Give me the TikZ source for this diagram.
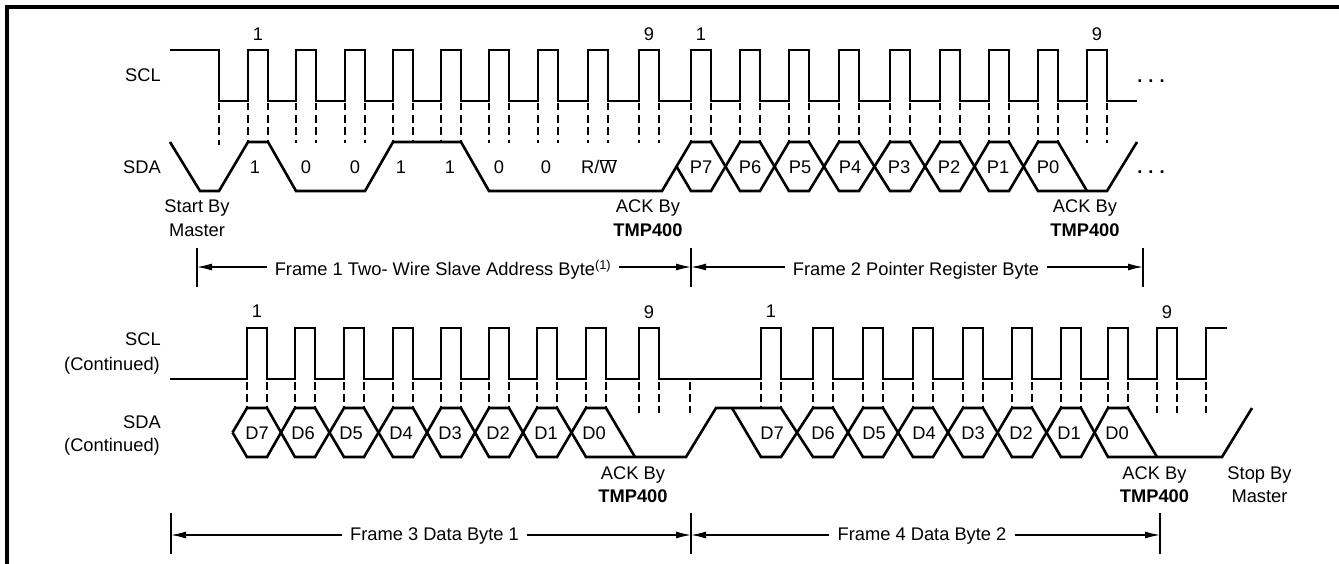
\documentclass[tikz,border=0pt]{standalone}
\usepackage{fontspec}
\setmainfont{Liberation Sans}
\usetikzlibrary{arrows.meta}
\begin{document}
\begin{tikzpicture}[x=1pt,y=-1pt,
  sig/.style={line width=2.6pt, line join=miter},
  dsh/.style={line width=1.5pt, dash pattern=on 7.5pt off 4.7pt},
  dimline/.style={line width=1.3pt},
  tickmark/.style={line width=1.6pt},
  arr/.style={dimline, -{Latex[length=15pt,width=7pt]}},
  lbl/.style={font=\fontsize{18.3}{22}\selectfont, inner sep=0pt, anchor=base},
  rlbl/.style={lbl, anchor=base east},
  flbl/.style={lbl, inner xsep=8pt}
]
\useasboundingbox (0,0) rectangle (1339,564);
% frame
\draw[line width=3.5pt] (7,570) -- (7,7) -- (1345,7);

% ================= TOP: SCL =================
\draw[sig] (170,50) -- (219,50) -- (219,101)
  \foreach \r in {248,296,345,393,441,489,538,588,639,691,740,789,839,890,940,989,1038,1087}
  { -- (\r,101) -- (\r,50) -- (\r+20,50) -- (\r+20,101) }
  -- (1137,101);
\foreach \r in {248,296,345,393,441,489,538,588,639,691,740,789,839,890,940,989,1038,1087}
  { \draw[dsh] (\r,103) -- (\r,143); \draw[dsh] (\r+20,103) -- (\r+20,143); }
\draw[dsh] (219,103) -- (219,145);

% ================= TOP: SDA =================
\draw[sig] (170,142) -- (200,191) -- (219,191) -- (248,142) -- (268,142) -- (296,191)
  -- (365,191) -- (393,142) -- (461,142) -- (489,191) -- (662,191)
  -- (691,142) -- (711,142) -- (740,191) -- (760,191) -- (789,142) -- (809,142)
  -- (839,191) -- (859,191) -- (890,142) -- (910,142) -- (940,191) -- (960,191)
  -- (989,142) -- (1009,142) -- (1038,191) -- (1107,191) -- (1137,142);
\draw[sig] (676.5,166.5) -- (691,191) -- (711,191) -- (740,142) -- (760,142) -- (789,191)
  -- (809,191) -- (839,142) -- (859,142) -- (890,191) -- (910,191) -- (940,142)
  -- (960,142) -- (989,191) -- (1009,191) -- (1038,142) -- (1058,142) -- (1087,191);

% top labels
\node[rlbl] (sclA) at (161,82) {SCL};
\node[rlbl] (sdaA) at (161,174) {SDA};
\node[lbl] (n1a) at (258,41) {1};
\node[lbl] (n9a) at (649,41) {9};
\node[lbl] (n1b) at (701,41) {1};
\node[lbl] (n9b) at (1097,41) {9};
\node[lbl] (dotsA) at (1151,83) {\bfseries .\,\,.\,\,.};
\node[lbl] (dotsB) at (1151,174) {\bfseries .\,\,.\,\,.};
\foreach \x/\t [count=\i] in {255/1,306/0,355/0,401/1,450/1,499/0,546/0}
  \node[lbl] (bit\i) at (\x,174) {\t};
\node[lbl] (rw) at (599,174) {R/$\overline{\hbox{W}}$};
\foreach \x/\t in {701/P7,750/P6,800/P5,850/P4,899/P3,949/P2,998/P1,1048/P0}
  \node[lbl] (\t) at (\x,174) {\t};
\node[lbl] (startA) at (197,213) {Start By};
\node[lbl] (startB) at (197,236.7) {Master};
\node[lbl] (ack1a) at (648,212.7) {ACK By};
\node[lbl] (ack1b) at (648,236.4) {\bfseries TMP400};
\node[lbl] (ack2a) at (1085,212.7) {ACK By};
\node[lbl] (ack2b) at (1085,236.4) {\bfseries TMP400};

% top dimension
\coordinate (tk1) at (197,267);
\coordinate (tk2) at (691,267);
\coordinate (tk3) at (1143,267);
\foreach \t in {tk1,tk2,tk3} \draw[tickmark] (\t) ++(0,-19) -- ++(0,39);
\node[flbl] (f1) at (443,275.7) {Frame 1 Two- Wire Slave Address Byte\textsuperscript{(1)}};
\node[flbl] (f2) at (916,275.7) {Frame 2 Pointer Register Byte};
\draw[arr] (f1.west |- tk1) -- (tk1);
\draw[arr] (f1.east |- tk2) -- (tk2);
\draw[arr] (f2.west |- tk2) -- (tk2);
\draw[arr] (f2.east |- tk3) -- (tk3);

% ================= BOTTOM: SCL =================
\draw[sig] (170,379)
  \foreach \r in {247,295,344,393,441,489,537,586,639,761,813,863,913,963,1012,1061,1108,1157}
  { -- (\r,379) -- (\r,328) -- (\r+20,328) -- (\r+20,379) }
  -- (1206,379) -- (1206,328) -- (1227,328);
\foreach \r in {247,295,344,393,441,489,537,586,761,813,863,913,963,1012,1061,1108}
  { \draw[dsh] (\r,382) -- (\r,408); \draw[dsh] (\r+20,382) -- (\r+20,408); }
\foreach \x in {639,659,690,1157,1177,1206}
  \draw[dsh] (\x,382) -- (\x,413);

% ================= BOTTOM: SDA =================
\draw[sig] (232.5,432.5) -- (247,408) -- (267,408) -- (295,457) -- (315,457) -- (344,408)
  -- (364,408) -- (393,457) -- (413,457) -- (441,408) -- (461,408) -- (489,457)
  -- (509,457) -- (537,408) -- (557,408) -- (586,457) -- (686,457) -- (716,408)
  -- (781,408) -- (813,457) -- (833,457) -- (863,408) -- (883,408) -- (913,457)
  -- (933,457) -- (963,408) -- (983,408) -- (1012,457) -- (1032,457) -- (1061,408)
  -- (1081,408) -- (1108,457) -- (1222,457) -- (1252,408);
\draw[sig] (232.5,432.5) -- (247,457) -- (267,457) -- (295,408) -- (315,408) -- (344,457)
  -- (364,457) -- (393,408) -- (413,408) -- (441,457) -- (461,457) -- (489,408)
  -- (509,408) -- (537,457) -- (557,457) -- (586,408) -- (606,408) -- (635,457);
\draw[sig] (732,408) -- (761,457) -- (781,457) -- (813,408) -- (833,408) -- (863,457)
  -- (883,457) -- (913,408) -- (933,408) -- (963,457) -- (983,457) -- (1012,408)
  -- (1032,408) -- (1061,457) -- (1081,457) -- (1108,408) -- (1128,408) -- (1157,457);

% bottom labels
\node[rlbl] (sclB) at (161,345.7) {SCL};
\node[rlbl] (sclC) at (160,370.7) {(Continued)};
\node[rlbl] (sdaB) at (161,428.3) {SDA};
\node[rlbl] (sdaC) at (160,451) {(Continued)};
\node[lbl] (m1a) at (257,317) {1};
\node[lbl] (m9a) at (649,318) {9};
\node[lbl] (m1b) at (771,317) {1};
\node[lbl] (m9b) at (1167,318) {9};
\foreach \x/\t in {257/D7,303/D6,351/D5,401/D4,450/D3,498/D2,546/D1,594/D0}
  \node[lbl] (a\t) at (\x,439) {\t};
\foreach \x/\t in {772/D7,823/D6,874/D5,924/D4,973/D3,1021/D2,1069/D1,1117/D0}
  \node[lbl] (b\t) at (\x,439) {\t};
\node[lbl] (ack3a) at (633,479) {ACK By};
\node[lbl] (ack3b) at (633,502.7) {\bfseries TMP400};
\node[lbl] (ack4a) at (1154.5,479) {ACK By};
\node[lbl] (ack4b) at (1154.5,502.7) {\bfseries TMP400};
\node[lbl] (stopA) at (1259.5,479) {Stop By};
\node[lbl] (stopB) at (1259.5,502.7) {Master};

% bottom dimension
\coordinate (tk4) at (171,535);
\coordinate (tk5) at (691,535);
\coordinate (tk6) at (1160,535);
\foreach \t in {tk4,tk5,tk6} \draw[tickmark] (\t) ++(0,-22) -- ++(0,41);
\node[flbl] (f3) at (434.5,540.7) {Frame 3 Data Byte 1};
\node[flbl] (f4) at (922,540.7) {Frame 4 Data Byte 2};
\draw[arr] (f3.west |- tk4) -- (tk4);
\draw[arr] (f3.east |- tk5) -- (tk5);
\draw[arr] (f4.west |- tk5) -- (tk5);
\draw[arr] (f4.east |- tk6) -- (tk6);
\end{tikzpicture}
\end{document}
